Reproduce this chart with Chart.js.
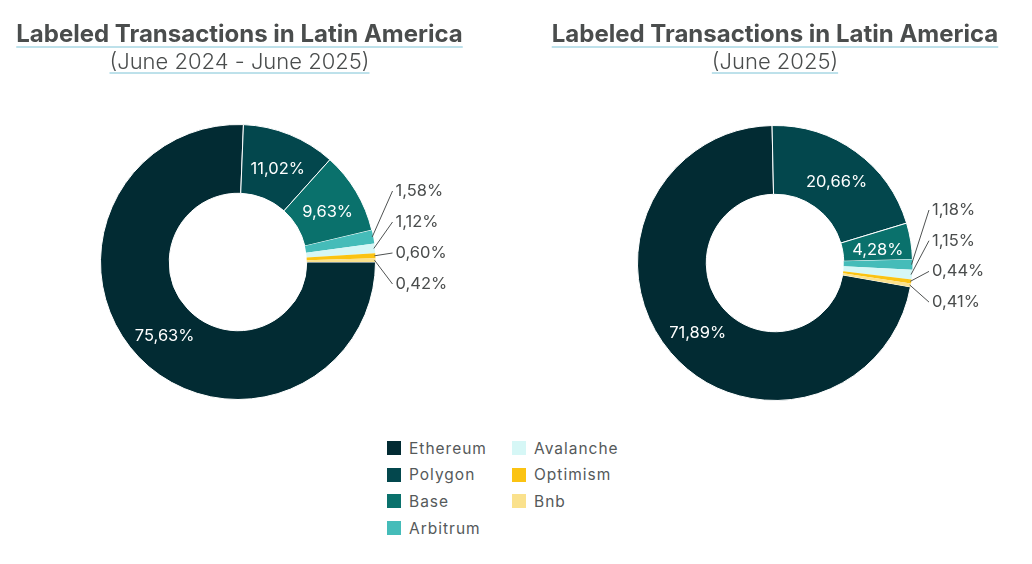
<!DOCTYPE html>
<html>
<head>
<meta charset="utf-8">
<title>Labeled Transactions in Latin America</title>
<script src="https://cdn.jsdelivr.net/npm/chart.js@4"></script>
<style>
  html, body { margin: 0; padding: 0; background: #fff; }
  body { width: 1032px; height: 564px; position: relative; overflow: hidden; font-family: Inter, sans-serif; }
  canvas { position: absolute; top: 0; }
  #leyenda { position: absolute; left: 387px; top: 435px; width: 250px; height: 108px;
    display: grid; grid-template-rows: repeat(4, 26.6px); grid-auto-flow: column; grid-template-columns: 125px 125px; }
  .item { display: flex; align-items: center; font-size: 15.5px; color: #55595a; letter-spacing: 1px; }
  .item i { width: 14px; height: 14px; margin-right: 8px; display: block; }
</style>
</head>
<body>
<canvas id="graficoTotal" width="480" height="400" style="left:0"></canvas>
<canvas id="graficoJunio" width="480" height="401" style="left:535px"></canvas>
<div id="leyenda"></div>
<script>
const redes = ['Ethereum', 'Polygon', 'Base', 'Arbitrum', 'Avalanche', 'Optimism', 'Bnb'];
const valoresTotal = [75.63, 11.02, 9.63, 1.58, 1.12, 0.60, 0.42];
const valoresJunio = [71.89, 20.66, 4.28, 1.18, 1.15, 0.44, 0.41];
const colores = ['#022b33', '#03474d', '#0a716c', '#45bcb9', '#d6f7f6', '#fbc312', '#fae18c'];

const fuente = 'Inter, sans-serif';
const colorTexto = '#4a4d4d';

const porcentaje = v => v.toFixed(2).replace('.', ',') + '%';

// etiquetas dentro del anillo y las pequeñas afuera con su linea guia
const etiquetasAnillo = {
  id: 'etiquetasAnillo',
  afterDatasetsDraw(chart, args, opts) {
    const ctx = chart.ctx;
    const arcos = chart.getDatasetMeta(0).data;
    const valores = chart.data.datasets[0].data;
    ctx.save();
    ctx.font = '16.5px ' + fuente;
    ctx.textBaseline = 'middle';
    let fila = 0;
    arcos.forEach((arco, i) => {
      if (valores[i] >= 2) {
        const p = arco.tooltipPosition();
        ctx.fillStyle = '#ffffff';
        ctx.textAlign = 'center';
        ctx.fillText(porcentaje(valores[i]), p.x + 1, p.y + 3);
        return;
      }
      const medio = (arco.startAngle + arco.endAngle) / 2;
      const r = arco.outerRadius - 1;
      const yLabel = arco.y + opts.y + fila * opts.paso;
      ctx.strokeStyle = '#4f5252';
      ctx.lineWidth = 1;
      ctx.beginPath();
      ctx.moveTo(arco.x + r * Math.cos(medio), arco.y + r * Math.sin(medio));
      ctx.lineTo(arco.x + opts.x - 3, yLabel);
      ctx.stroke();
      ctx.fillStyle = colorTexto;
      ctx.textAlign = 'left';
      ctx.fillText(porcentaje(valores[i]), arco.x + opts.x, yLabel);
      fila++;
    });
    ctx.restore();
  }
};

const cajasTitulo = chart => chart.boxes.filter(b => b.options && typeof b.options.text === 'string' && b.options.text);

// el titulo no queda centrado con el anillo, se corre un poco
const corrimientoTitulo = {
  id: 'corrimientoTitulo',
  afterLayout(chart, args, opts) {
    cajasTitulo(chart).forEach(b => { b.left += opts.dx; b.right += opts.dx; });
  }
};

// subrayado celeste bajo titulo y subtitulo
const subrayado = {
  id: 'subrayado',
  afterDraw(chart) {
    const ctx = chart.ctx;
    ctx.save();
    ctx.strokeStyle = '#7cc3d6';
    ctx.lineWidth = 1;
    cajasTitulo(chart).forEach(b => {
      const fo = b.options.font;
      ctx.font = `${fo.weight || 'normal'} ${fo.size}px ${fo.family}`;
      const ancho = ctx.measureText(b.options.text).width;
      const cx = (b.left + b.right) / 2;
      const y = Math.round(b.top + b.options.padding.top + fo.size * 1.08);
      ctx.beginPath();
      ctx.moveTo(cx - ancho / 2, y);
      ctx.lineTo(cx + ancho / 2, y);
      ctx.stroke();
    });
    ctx.restore();
  }
};

function graficoAnillo(id, valores, periodo, rotacion, derecha, dx, guia, hueco) {
  return new Chart(document.getElementById(id), {
    type: 'doughnut',
    data: {
      labels: redes,
      datasets: [{
        data: valores,
        backgroundColor: colores,
        borderColor: '#ffffff',
        borderWidth: c => (c.raw >= 2 ? 1 : 0)
      }]
    },
    options: {
      responsive: false,
      animation: false,
      rotation: rotacion,
      cutout: '50%',
      layout: { padding: { right: derecha, bottom: 0 } },
      plugins: {
        legend: { display: false },
        tooltip: { enabled: false },
        title: {
          display: true,
          text: 'Labeled Transactions in Latin America',
          color: colorTexto,
          font: { family: fuente, size: 24, weight: '700', lineHeight: 1.15 },
          padding: { top: 21, bottom: 0 }
        },
        subtitle: {
          display: true,
          text: periodo,
          color: colorTexto,
          font: { family: fuente, size: 22, weight: '300' },
          padding: { top: 1, bottom: hueco }
        },
        corrimientoTitulo: { dx: dx },
        etiquetasAnillo: guia
      }
    },
    plugins: [etiquetasAnillo, corrimientoTitulo, subrayado]
  });
}

graficoAnillo('graficoTotal', valoresTotal, '(June 2024 - June 2025)', 90, 4, 1.5, { x: 157.5, y: -71, paso: 31 }, 48);
graficoAnillo('graficoJunio', valoresJunio, '(June 2025)', 100, 0, 0, { x: 157, y: -53, paso: 30.7 }, 49);

const leyenda = document.getElementById('leyenda');
redes.forEach((red, i) => {
  const item = document.createElement('div');
  item.className = 'item';
  const cuadro = document.createElement('i');
  cuadro.style.background = colores[i];
  item.appendChild(cuadro);
  item.appendChild(document.createTextNode(red));
  leyenda.appendChild(item);
});
</script>
</body>
</html>
